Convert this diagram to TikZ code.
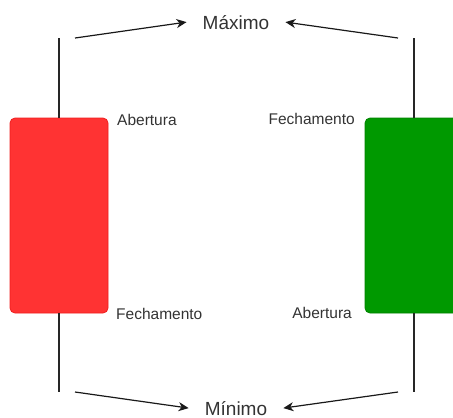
\documentclass[tikz,border=0pt]{standalone}
\usepackage{fontspec}
\setmainfont{Liberation Sans}
\usepackage{xcolor}
\usetikzlibrary{arrows.meta}

\definecolor{bearred}{HTML}{FF3333}
\definecolor{bearedge}{HTML}{F01E1E}
\definecolor{bullgreen}{HTML}{009900}
\definecolor{bulledge}{HTML}{008200}
\definecolor{labelgray}{HTML}{333333}

\begin{document}
\begin{tikzpicture}[
  x=1pt,y=-1pt,
  body/.style={draw,rounded corners=5pt,minimum width=98pt,minimum height=195pt,
               inner sep=0pt,line width=0.8pt},
  bear/.style={body,fill=bearred,draw=bearedge},
  bull/.style={body,fill=bullgreen,draw=bulledge},
  wick/.style={line width=1.2pt,black!85},
  price/.style={font=\fontsize{15.5}{18}\selectfont,text=labelgray,inner sep=0pt},
  extreme/.style={font=\fontsize{19}{22}\selectfont,text=labelgray,
                  inner xsep=16pt,inner ysep=0pt},
  flow/.style={-{Stealth[length=10pt,width=9pt,inset=3pt]},line width=1.2pt,black!90}
]
\useasboundingbox (0,0) rectangle (453,418);
\clip (0,0) rectangle (453,418);

% candle bodies
\node[bear] (redbody) at (59,215.5) {};
\node[bull] (greenbody) at (414,215.5) {};

% wicks
\coordinate (redhigh) at (59,38);
\coordinate (redlow) at (59,392);
\coordinate (greenhigh) at (414,38);
\coordinate (greenlow) at (414,392);
\draw[wick] (redhigh) -- (redbody.north);
\draw[wick] (redbody.south) -- (redlow);
\draw[wick] (greenhigh) -- (greenbody.north);
\draw[wick] (greenbody.south) -- (greenlow);

% open / close labels
\node[price,anchor=base west] (redopen) at (117,125) {Abertura};
\node[price,anchor=base west] (redclose) at (116,319) {Fechamento};
\node[price,anchor=base east] (greenclose) at (355,124) {Fechamento};
\node[price,anchor=base east] (greenopen) at (352,318) {Abertura};

% high and low
\node[extreme,anchor=base] (maximo) at (236,29) {Máximo};
\node[extreme,anchor=base] (minimo) at (236,415) {Mínimo};

\coordinate (redup) at (75,38);
\coordinate (reddown) at (75,392);
\coordinate (greenup) at (398,38);
\coordinate (greendown) at (398,392);
\draw[flow] (redup) -- (maximo.west);
\draw[flow] (greenup) -- (maximo.east);
\draw[flow] (reddown) -- (minimo.west);
\draw[flow] (greendown) -- (minimo.east);
\end{tikzpicture}
\end{document}
